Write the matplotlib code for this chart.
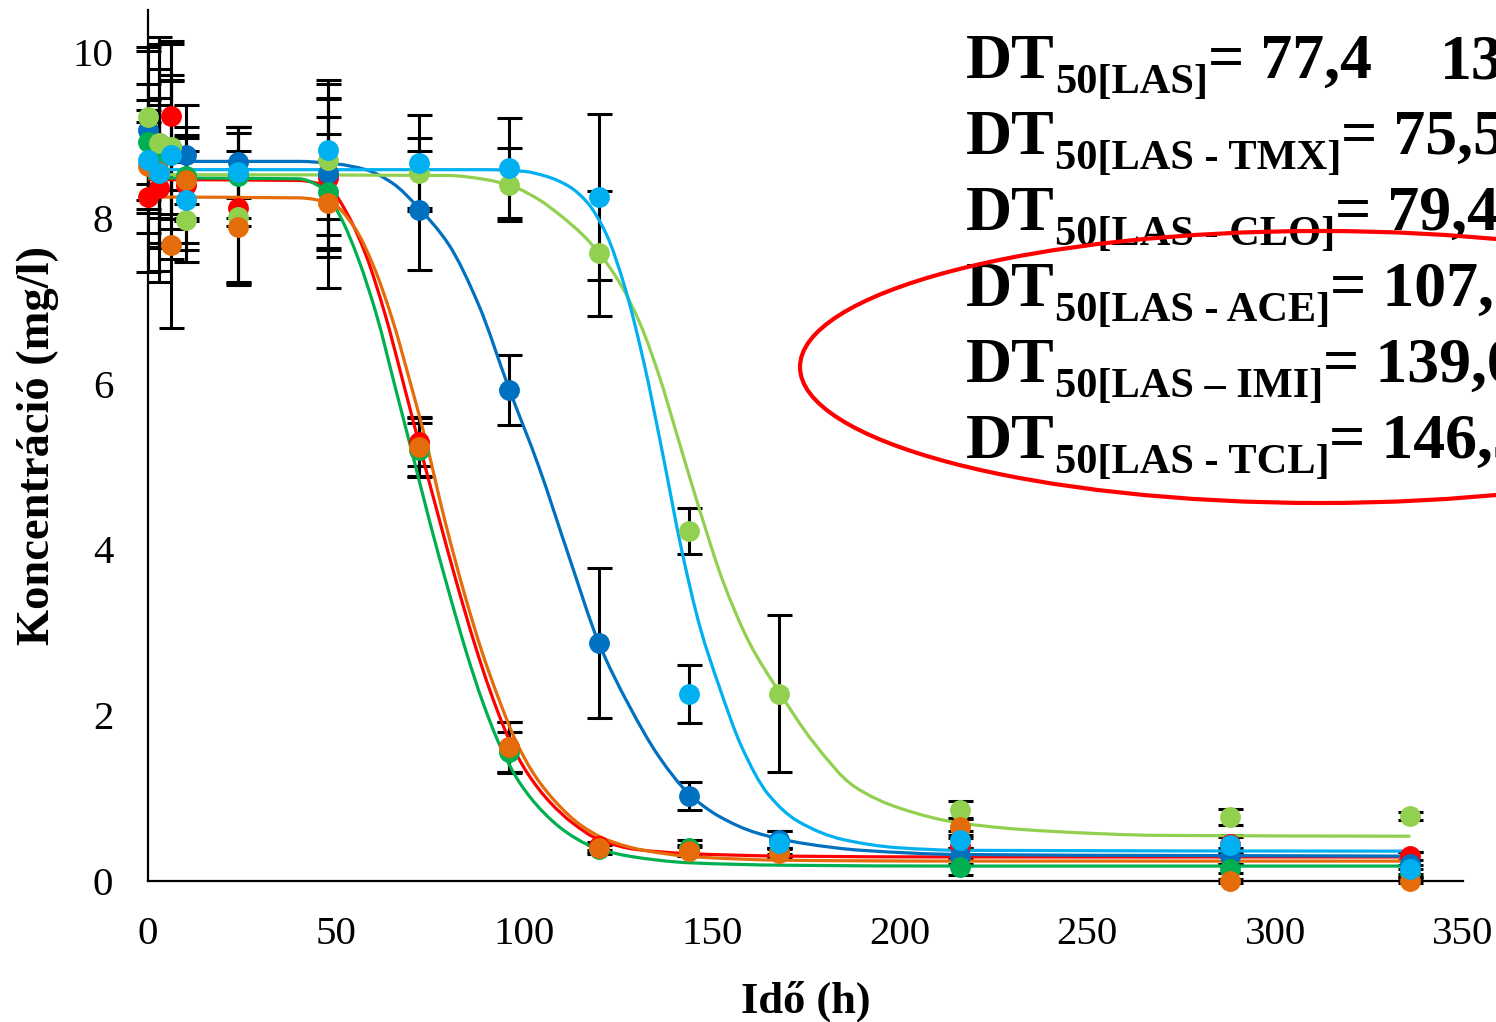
import matplotlib
matplotlib.use("Agg")
import matplotlib.pyplot as plt
from matplotlib.patches import Ellipse, PathPatch
from matplotlib.path import Path
from matplotlib.transforms import IdentityTransform

W, H = 1496, 1022
SERIF = "Liberation Serif"

# ---------------- data ----------------
times = [0, 3, 6, 10, 24, 48, 72, 96, 120, 144, 168, 216, 288, 336]

las_vals = [8.25, 8.36, 9.23, 8.40, 8.12, 8.48, 5.30, 1.62, 0.42, 0.38, 0.35, 0.42, 0.45, 0.30]
las_err = [0.9, 1.0, 0.9, 0.7, 0.9, 0.95, 0.3, 0.3, 0.05, 0.05, 0.05, 0.1, 0.1, 0.05]

tmx_vals = [8.91, 8.70, 8.85, 8.50, 8.50, 8.31, 5.20, 1.55, 0.38, 0.40, 0.35, 0.17, 0.15, 0.10]
tmx_err = [0.7, 1.48, 0.8, 0.5, 0.6, 0.7, 0.33, 0.25, 0.05, 0.1, 0.05, 0.1, 0.05, 0.05]

clo_vals = [8.62, 8.55, 7.67, 8.46, 7.89, 8.18, 5.24, 1.62, 0.40, 0.36, 0.34, 0.65, 0.00, 0.00]
clo_err = [0.8, 0.9, 1.0, 0.5, 0.7, 1.03, 0.35, 0.3, 0.05, 0.05, 0.05, 0.1, 0.02, 0.02]

ace_vals = [9.06, 8.90, 8.80, 8.76, 8.67, 8.54, 8.09, 5.92, 2.87, 1.03, 0.50, 0.30, 0.30, 0.20]
ace_err = [1.0, 1.2, 1.3, 0.6, 0.43, 0.91, 0.72, 0.42, 0.9, 0.17, 0.1, 0.1, 0.1, 0.15]

imi_vals = [8.70, 8.54, 8.76, 8.21, 8.55, 8.82, 8.66, 8.60, 8.25, 2.26, 0.46, 0.50, 0.43, 0.14]
imi_err = [0.6, 0.9, 0.9, 0.6, 0.55, 0.84, 0.58, 0.6, 1.0, 0.35, 0.14, 0.1, 0.1, 0.05]

tcl_vals = [9.21, 8.90, 8.85, 7.97, 8.01, 8.70, 8.54, 8.40, 7.57, 4.22, 2.26, 0.86, 0.77, 0.78]
tcl_err = [0.8, 0.9, 0.87, 0.5, 0.8, 0.91, 0.42, 0.44, 0.75, 0.28, 0.95, 0.1, 0.1, 0.05]

# fitted curves
las_fit_t = [0, 40, 48, 53, 58, 63, 68, 72, 77, 82, 87, 91, 96, 101, 107, 113, 120, 130, 144, 170, 216, 336]
las_fit_y = [8.46, 8.45, 8.37, 8.05, 7.55, 6.85, 6.00, 5.30, 4.45, 3.62, 2.85, 2.30, 1.72, 1.30, 0.95, 0.70, 0.50, 0.38, 0.33, 0.30, 0.29, 0.29]

tmx_fit_t = [0, 40, 46, 51, 56, 61, 66, 70, 75, 80, 85, 89, 94, 99, 105, 111, 118, 128, 144, 170, 216, 336]
tmx_fit_y = [8.48, 8.47, 8.37, 8.03, 7.50, 6.80, 5.92, 5.22, 4.33, 3.50, 2.72, 2.17, 1.60, 1.18, 0.84, 0.60, 0.42, 0.30, 0.22, 0.19, 0.18, 0.18]

clo_fit_t = [0, 40, 49, 55, 60, 65, 70, 74, 79, 84, 89, 93, 98, 103, 109, 115, 122, 132, 146, 170, 216, 336]
clo_fit_y = [8.25, 8.24, 8.17, 7.88, 7.42, 6.78, 5.98, 5.30, 4.35, 3.50, 2.75, 2.24, 1.68, 1.27, 0.93, 0.68, 0.50, 0.37, 0.29, 0.25, 0.24, 0.24]

ace_fit_t = [0, 40, 50, 58, 65, 72, 80, 88, 96, 104, 112, 120, 128, 136, 144, 152, 162, 175, 190, 216, 336]
ace_fit_y = [8.68, 8.68, 8.65, 8.58, 8.42, 8.12, 7.68, 6.95, 5.95, 5.00, 3.92, 2.87, 2.12, 1.50, 1.05, 0.78, 0.58, 0.45, 0.37, 0.32, 0.30]

imi_fit_t = [0, 90, 100, 106, 112, 117, 122, 127, 132, 137, 142, 147, 152, 158, 165, 173, 185, 200, 216, 336]
imi_fit_y = [8.58, 8.58, 8.56, 8.50, 8.38, 8.18, 7.80, 7.15, 6.25, 5.15, 4.00, 3.05, 2.35, 1.62, 1.05, 0.72, 0.50, 0.40, 0.37, 0.36]

tcl_fit_t = [0, 80, 90, 97, 104, 110, 116, 121, 126, 131, 136, 141, 147, 153, 160, 168, 177, 188, 200, 216, 240, 270, 336]
tcl_fit_y = [8.52, 8.51, 8.46, 8.38, 8.22, 8.02, 7.78, 7.52, 7.18, 6.72, 6.10, 5.35, 4.45, 3.62, 2.88, 2.28, 1.68, 1.14, 0.88, 0.70, 0.60, 0.55, 0.54]

x_ticks = [0, 50, 100, 150, 200, 250, 300, 350]
y_ticks = [0, 2, 4, 6, 8, 10]

dt_labels = ["50[LAS]", "50[LAS - TMX]", "50[LAS - CLO]", "50[LAS - ACE]", "50[LAS \u2013 IMI]", "50[LAS - TCL]"]
dt_values = ["= 77,4", "= 75,5", "= 79,4", "= 107,8", "= 139,0", "= 146,3"]


def smooth_curve(xs, ys, **kw):
    """Smoothed line through the given points (like a spreadsheet 'smoothed line'),
    drawn as cubic Bezier segments with monotone tangents."""
    n = len(xs)
    h = [xs[i + 1] - xs[i] for i in range(n - 1)]
    d = [(ys[i + 1] - ys[i]) / h[i] for i in range(n - 1)]
    m = [0.0] * n
    m[0], m[-1] = d[0], d[-1]
    for i in range(1, n - 1):
        if d[i - 1] * d[i] <= 0:
            m[i] = 0.0
        else:
            w1 = 2 * h[i] + h[i - 1]
            w2 = h[i] + 2 * h[i - 1]
            m[i] = (w1 + w2) / (w1 / d[i - 1] + w2 / d[i])
    verts = [(xs[0], ys[0])]
    codes = [Path.MOVETO]
    for i in range(n - 1):
        verts += [(xs[i] + h[i] / 3, ys[i] + m[i] * h[i] / 3),
                  (xs[i + 1] - h[i] / 3, ys[i + 1] - m[i + 1] * h[i] / 3),
                  (xs[i + 1], ys[i + 1])]
        codes += [Path.CURVE4] * 3
    return PathPatch(Path(verts, codes), fill=False, **kw)


# ---------------- figure ----------------
fig = plt.figure(figsize=(W / 100, H / 100), dpi=100)
ax = fig.add_axes([148 / W, 1 - 881 / H, (1463 - 148) / W, (881 - 10.5) / H])
ax.set_xlim(0, 350)
ax.set_ylim(0, 10.5)

series = [
    (las_vals, las_err, las_fit_t, las_fit_y, "#FF0000"),
    (ace_vals, ace_err, ace_fit_t, ace_fit_y, "#0070C0"),
    (tmx_vals, tmx_err, tmx_fit_t, tmx_fit_y, "#00B050"),
    (tcl_vals, tcl_err, tcl_fit_t, tcl_fit_y, "#92D050"),
    (clo_vals, clo_err, clo_fit_t, clo_fit_y, "#E46C0A"),
    (imi_vals, imi_err, imi_fit_t, imi_fit_y, "#00B0F0"),
]

for vals, err, ft, fy, col in series:
    ax.errorbar(times, vals, yerr=err, fmt="none", ecolor="black",
                elinewidth=2.2, capsize=9, capthick=2.2, zorder=2, clip_on=False)
for vals, err, ft, fy, col in series:
    ax.add_patch(smooth_curve(ft, fy, edgecolor=col, lw=2.3, zorder=3))
for vals, err, ft, fy, col in series:
    ax.plot(times, vals, "o", color=col, ms=14, mec=col, zorder=4, clip_on=False)

for s in ["top", "right"]:
    ax.spines[s].set_visible(False)
for s in ["left", "bottom"]:
    ax.spines[s].set_linewidth(1.6)
    ax.spines[s].set_color("black")

ax.set_xticks(x_ticks)
ax.set_yticks(y_ticks)
ax.tick_params(length=0, labelsize=29.5, pad=25)
for lab in ax.get_xticklabels() + ax.get_yticklabels():
    lab.set_family(SERIF)

ax.set_xlabel("Idő (h)", family=SERIF, fontsize=32, fontweight="bold", labelpad=20)
ax.set_ylabel("Koncentráció (mg/l)", family=SERIF, fontsize=33.5, fontweight="bold", labelpad=10)

# ---------------- DT50 annotation ----------------
renderer = fig.canvas.get_renderer()


def put_runs(x_px, base_px, pieces):
    x = x_px
    for s, size, dy in pieces:
        t = fig.text(x / W, 1 - (base_px + dy) / H, s, fontsize=size, fontweight="bold",
                     family=SERIF, ha="left", va="baseline", color="black")
        bb = t.get_window_extent(renderer)
        x += bb.width
    return x


row_base = [78, 154, 230, 306, 382, 458]
for i, (lab, val) in enumerate(zip(dt_labels, dt_values)):
    put_runs(966, row_base[i], [("DT", 46, 0), (lab, 30.5, 15), (val, 46, 0)])
fig.text(1440 / W, 1 - row_base[0] / H, "139", fontsize=46, fontweight="bold",
         family=SERIF, ha="left", va="baseline")

ell = Ellipse((1320, H - 367), 1040, 272, angle=0.0, fill=False, edgecolor="#FF0000",
              lw=3.0, transform=IdentityTransform(), zorder=10)
fig.patches.append(ell)

fig.savefig("out.png", dpi=100)
